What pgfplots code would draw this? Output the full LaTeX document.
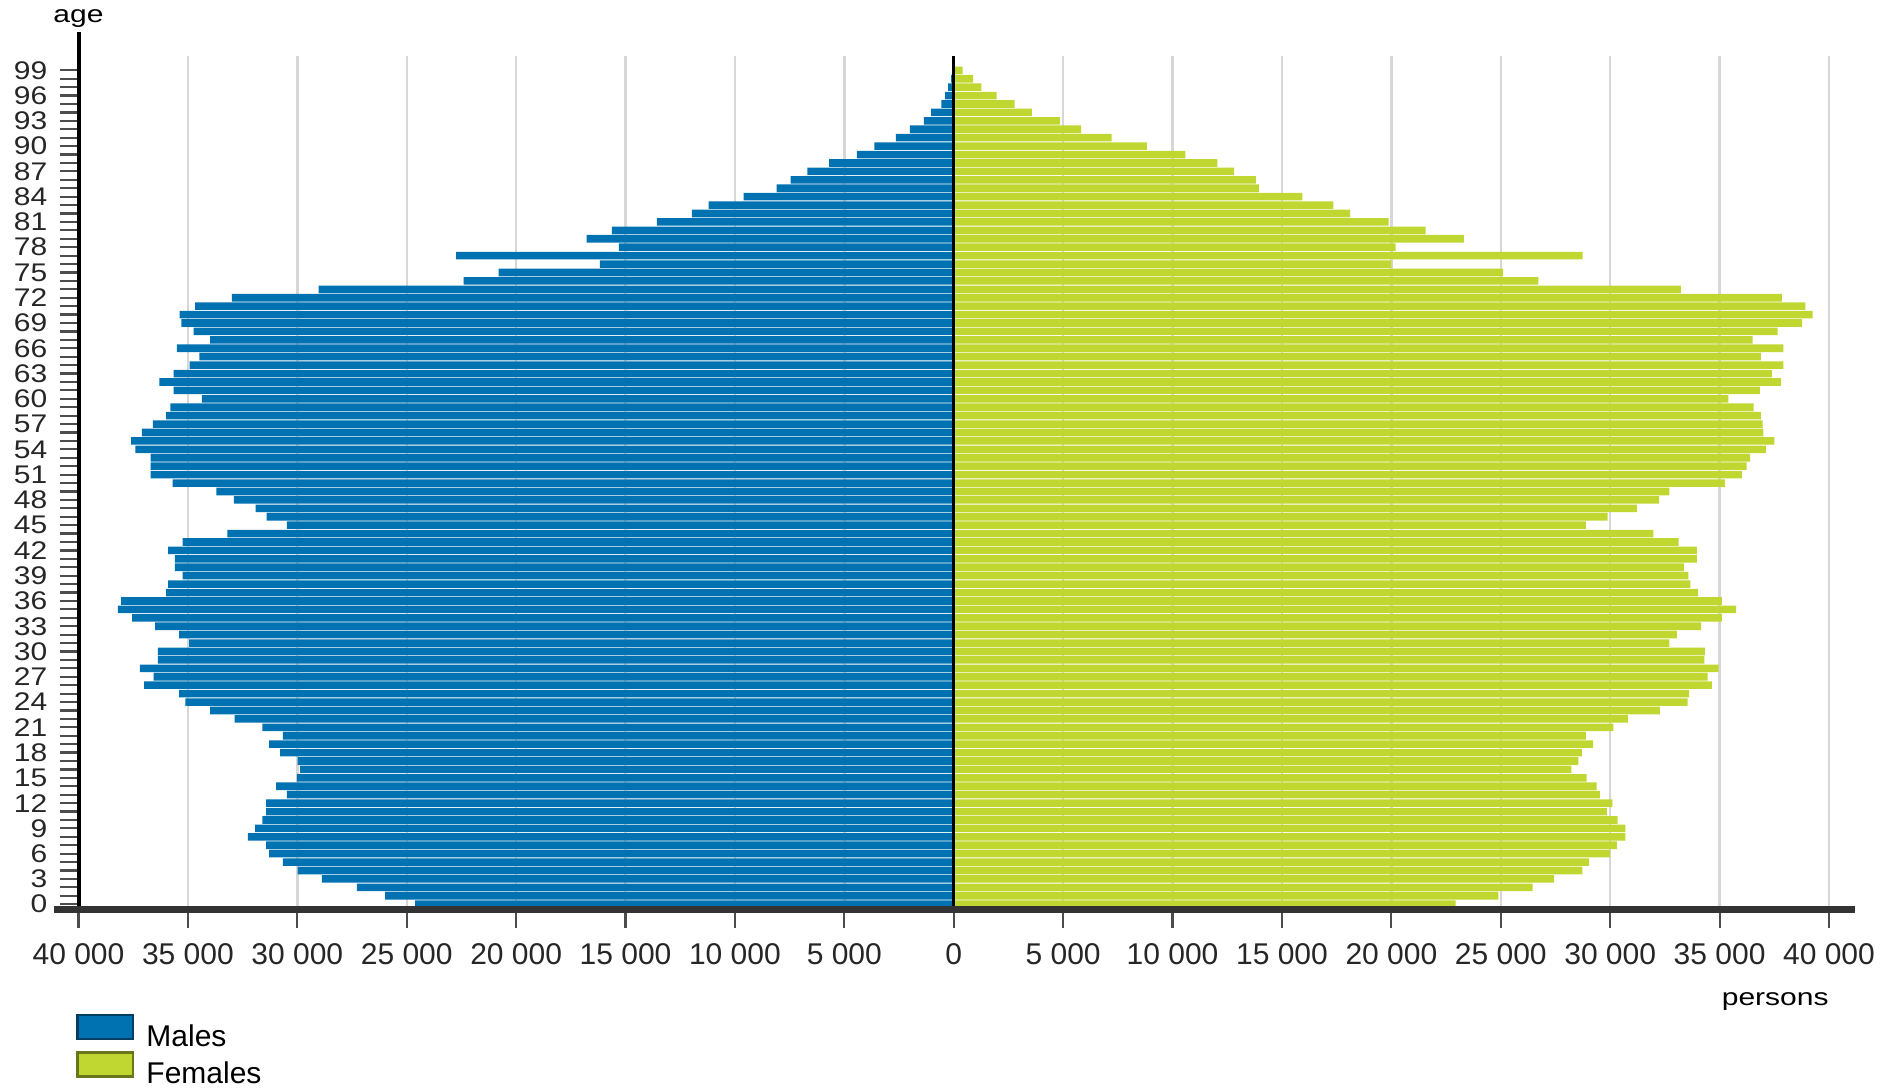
\documentclass[border=0pt]{standalone}
\usepackage{fontspec}
\setmainfont{Liberation Sans}
\usepackage{pgfplots}
\usepackage{pgfplotstable}
\pgfplotsset{compat=1.18}

\definecolor{males}{RGB}{0,114,178}
\definecolor{females}{RGB}{191,215,48}
\definecolor{gridgray}{RGB}{215,215,215}

% age, males (negative), females
\pgfplotstableread{
age males females
0 -24620 22940
1 -25990 24890
2 -27280 26450
3 -28880 27440
4 -29990 28730
5 -30660 29040
6 -31290 30000
7 -31420 30300
8 -32260 30690
9 -31930 30690
10 -31600 30340
11 -31420 29850
12 -31420 30100
13 -30480 29530
14 -30970 29380
15 -30020 28920
16 -29870 28230
17 -29990 28550
18 -30780 28700
19 -31290 29220
20 -30660 28890
21 -31600 30140
22 -32870 30810
23 -33980 32270
24 -35120 33540
25 -35400 33610
26 -37000 34650
27 -36570 34450
28 -37200 34950
29 -36370 34300
30 -36370 34330
31 -34940 32700
32 -35400 33050
33 -36500 34150
34 -37550 35100
35 -38200 35750
36 -38050 35100
37 -36000 34020
38 -35900 33660
39 -35240 33570
40 -35600 33380
41 -35600 33960
42 -35900 33960
43 -35240 33130
44 -33200 31970
45 -30480 28890
46 -31400 29880
47 -31900 31220
48 -32900 32240
49 -33700 32700
50 -35700 35240
51 -36700 36020
52 -36700 36230
53 -36700 36390
54 -37400 37120
55 -37600 37500
56 -37100 37000
57 -36600 36970
58 -36000 36890
59 -35800 36550
60 -34360 35400
61 -35650 36840
62 -36300 37800
63 -35650 37390
64 -34920 37910
65 -34480 36890
66 -35500 37910
67 -33980 36510
68 -34740 37650
69 -35300 38770
70 -35380 39250
71 -34670 38920
72 -32990 37840
73 -29030 33230
74 -22400 26720
75 -20800 25110
76 -16170 20000
77 -22740 28740
78 -15300 20190
79 -16780 23310
80 -15630 21570
81 -13570 19870
82 -11970 18110
83 -11200 17350
84 -9600 15930
85 -8100 13940
86 -7450 13810
87 -6690 12810
88 -5700 12050
89 -4430 10590
90 -3630 8830
91 -2640 7220
92 -2000 5820
93 -1370 4860
94 -1030 3570
95 -570 2780
96 -390 1960
97 -260 1260
98 -120 880
99 -60 410
}\pyramid

\begin{document}
\begin{tikzpicture}
\path[use as bounding box] (0,0) rectangle (944pt,544.5pt);
\begin{axis}[
    at={(39.25pt,89.75pt)}, anchor=south west,
    scale only axis, width=875.25pt, height=426.75pt,
    xmin=-40000, xmax=40000, ymin=-0.63, ymax=100.7,
    clip=false,
    axis line style={draw=none},
    scaled x ticks=false,
    xtick={-40000,-35000,...,40000},
    xticklabels={40 000,35 000,30 000,25 000,20 000,15 000,10 000,5 000,0,5 000,10 000,15 000,20 000,25 000,30 000,35 000,40 000},
    ytick={0,3,...,99},
    minor ytick={0,...,99},
    tick align=outside, tick pos=left,
    major tick length=9pt, minor tick length=9pt,
    every tick/.style={gray!60!black, line width=1.1pt},
    xmajorgrids, grid style={gridgray, line width=1.2pt},
    /pgf/number format/assume math mode=true,
    xticklabel style={font=\fontsize{15}{18}\selectfont, text=black!85, inner sep=0pt, yshift=-8pt},
    yticklabel style={font=\fontsize{15}{18}\selectfont, text=black!85, inner sep=0pt, xshift=-6.4pt, yscale=0.85},
    legend cell align=left,
    legend style={at={(-0.0014,-0.122)}, anchor=north west, draw=none, fill=none,
        inner sep=0pt, row sep=0.8pt, column sep=6pt,
        font=\fontsize{15}{18}\selectfont, nodes={inner sep=0pt}},
]
\addplot[xbar, bar width=0.9, bar shift=0pt, fill=males, draw=none,
    legend image code/.code={\draw[fill=males, draw=males!55!black, line width=1.2pt] (0.6pt,-1pt) rectangle (28.4pt,11pt);}]
    table[x=males, y=age] {\pyramid};
\addlegendentry{Males}
\addplot[xbar, bar width=0.9, bar shift=0pt, fill=females, draw=none,
    legend image code/.code={\draw[fill=females, draw=females!55!black, line width=1.2pt] (0.6pt,-1pt) rectangle (28.4pt,11pt);}]
    table[x=females, y=age] {\pyramid};
\addlegendentry{Females}

\draw[black, line width=1.5pt] (axis cs:0,-0.63) -- (axis cs:0,100.7);
\draw[black, line width=2pt] (axis cs:-40000,-0.63) -- (axis cs:-40000,103.6);
\draw[black!80, line width=3.5pt] ([xshift=-12.25pt]axis cs:-40000,-0.63) -- ([xshift=13pt]axis cs:40000,-0.63);
\node[font=\fontsize{15}{18}\selectfont, yscale=0.8, inner sep=0pt] at (axis cs:-40000,105.2) {age};
\node[font=\fontsize{15}{18}\selectfont, yscale=0.8, inner sep=0pt, anchor=base east] at (axis cs:40000,-11.97) {persons};
\end{axis}
\end{tikzpicture}
\end{document}
